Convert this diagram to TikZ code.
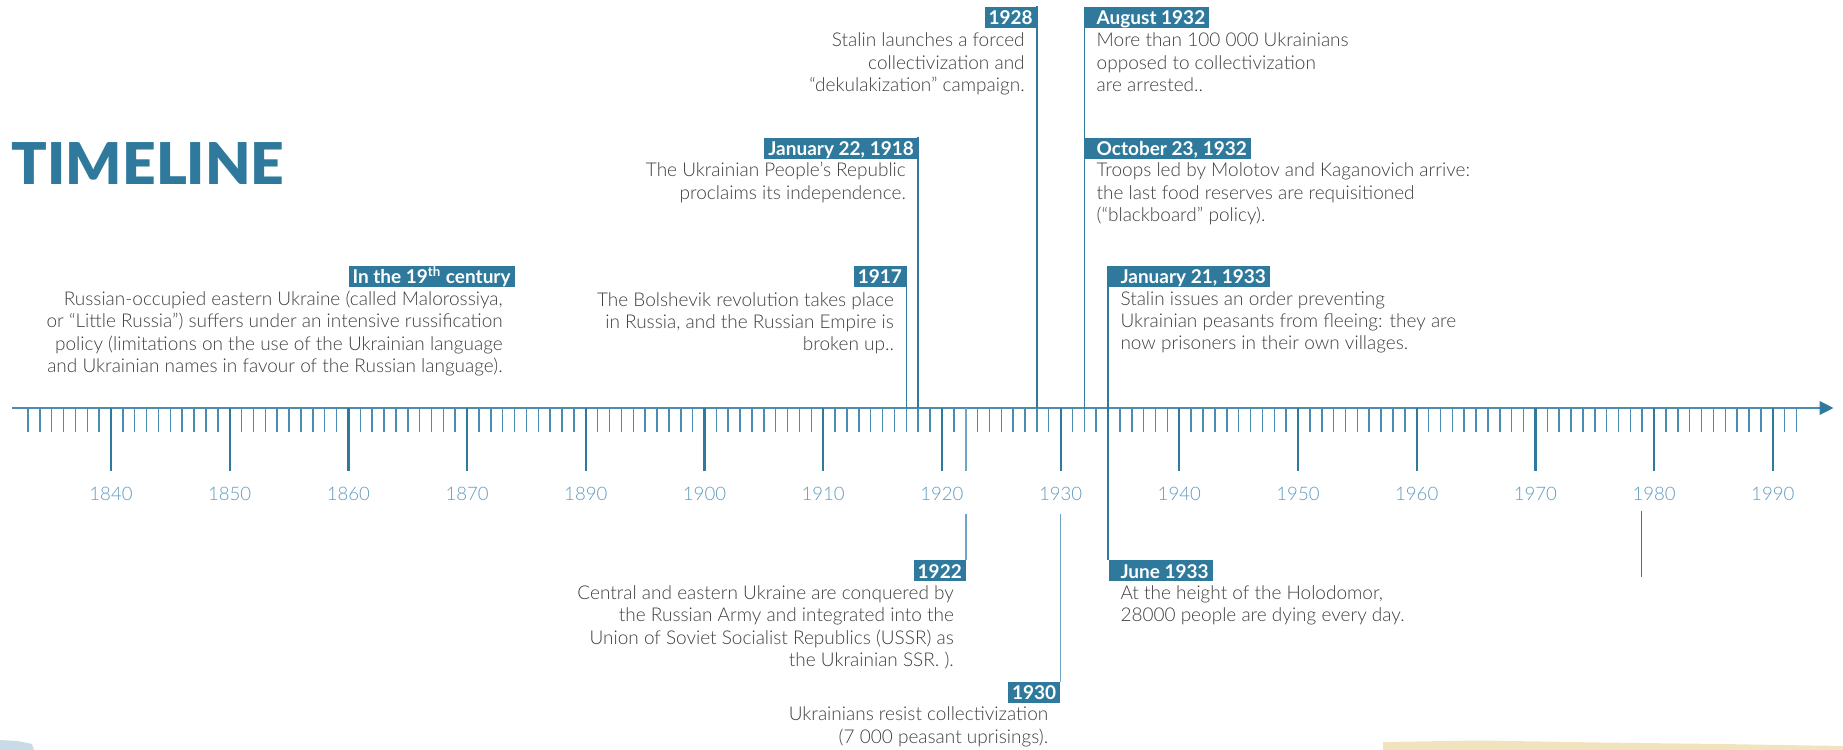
\documentclass[tikz,border=0pt]{standalone}
\usepackage{fontspec}
\usepackage{graphicx}
\usetikzlibrary{arrows.meta}
\setmainfont{Lato}
\IfFontExistsTF{Lato Light}{\newfontfamily\bodyfont{Lato Light}}{\newfontfamily\bodyfont{Lato}}
\IfFontExistsTF{Lato Black}{\newfontfamily\titlefont{Lato Black}}{\newfontfamily\titlefont{Lato}[UprightFont=*,BoldFont=*]\def\titlefont{\bfseries}}
\definecolor{tlblue}{HTML}{2F7A9C}
\definecolor{tlaxis}{HTML}{4B8DB0}
\definecolor{tlminor}{HTML}{4A8DB0}
\definecolor{tllabel}{HTML}{5E9BBE}
\definecolor{tllow}{HTML}{6CA6C4}
\definecolor{bodygray}{HTML}{3F3F3F}
\definecolor{paper}{HTML}{F1E3BD}
\definecolor{wash}{HTML}{C9DBE6}
\begin{document}
\begin{tikzpicture}[x=0.5pt,y=-0.5pt,
  datebox/.style={fill=tlblue, text=white, inner xsep=2pt, inner ysep=0pt,
    text height=8.8pt, text depth=1.65pt, font=\bfseries\fontsize{9.5}{11}\selectfont},
  body/.style={inner sep=0pt, text=bodygray, font=\bodyfont\fontsize{9.5}{11.2}\selectfont},
  evline/.style={draw=tlblue, line width=0.75pt},
  lowline/.style={draw=tllow, line width=0.75pt},
  minortick/.style={draw=tlminor, line width=0.75pt},
  majortick/.style={draw=tlblue, line width=1.1pt},
  yearlabel/.style={text=tllabel, inner sep=0pt, font=\bodyfont\fontsize{9.3}{11}\selectfont},
]
\useasboundingbox (0,0) rectangle (1843,750);
% decorative paper edges
\fill[paper] (1383,742) -- (1480,740.5) -- (1600,742.5) -- (1720,744) -- (1843,746) -- (1843,750) -- (1383,750) -- cycle;
\fill[wash] (0,740) -- (18,741) -- (32,744) -- (34,750) -- (0,750) -- cycle;

% title
\node[anchor=base west, inner sep=0pt, text=tlblue, font=\titlefont\fontsize{28.8}{30}\selectfont] (title) at (11.5,184) {\scalebox{1.02}[1]{TIMELINE}};

% axis
\coordinate (axS) at (12,408);
\coordinate (axE) at (1833.5,408);
\draw[draw=tlaxis, line width=1pt, -{Triangle[length=7pt,width=6.8pt,color=tlblue]}] (axS) -- (axE);
\foreach \u in {1843,...,1992}
  \draw[minortick] ({704.5+(\u-1900)*11.87},408) -- ({704.5+(\u-1900)*11.87},431.7);
\foreach \u/\lab in {1850/1840,1860/1850,1870/1860,1880/1870,1890/1890,1900/1900,1910/1910,1920/1920,1930/1930,1940/1940,1950/1950,1960/1960,1970/1970,1980/1980,1990/1990}{
  \draw[majortick] ({704.5+(\u-1900)*11.87},408) -- ({704.5+(\u-1900)*11.87},471);
  \node[yearlabel, anchor=base] (lab\lab) at ({704.5+(\u-1900)*11.87},500.5) {\lab};
}

% axis anchor points of events
\coordinate (a1917) at (906.3,408);
\coordinate (a1918) at (918.2,408);
\coordinate (a1928) at (1037,408);
\coordinate (a1932) at (1084.3,408);
\coordinate (a1922) at (966.2,408);
\coordinate (g1922a) at (966.2,471);
\coordinate (g1922b) at (966.2,514);
\coordinate (g1930b) at (1060.6,514);
\coordinate (s1979a) at (1641.5,510.7);
\coordinate (s1979b) at (1641.5,576.7);

% ---- In the 19th century
\node[datebox, anchor=north east] (b19) at (515,265.7) {In the 19\textsuperscript{th} century\hspace{4pt}};
\node[body, anchor=base east] (t19) at (503,305.5) {\begin{tabular}[t]{@{}r@{}}Russian-occupied eastern Ukraine (called Malorossiya,\\ or “Little Russia”) suffers under an intensive russification\\ policy (limitations on the use of the Ukrainian language\\ and Ukrainian names in favour of the Russian language).\end{tabular}};

% ---- 1917
\node[datebox, anchor=north east] (b1917) at (906.3,265.7) {1917\hspace{4pt}};
\node[body, anchor=base east] (t1917) at (894.3,306) {\begin{tabular}[t]{@{}r@{}}The Bolshevik revolution takes place\\ in Russia, and the Russian Empire is\\ broken up..\end{tabular}};
\draw[evline] (b1917.north east) -- (a1917);

% ---- January 22, 1918
\node[datebox, anchor=north east] (b1918) at (918.2,137.3) {January 22, 1918\hspace{4pt}};
\node[body, anchor=base east] (t1918) at (906.2,176.7) {\begin{tabular}[t]{@{}r@{}}The Ukrainian People’s Republic\\ proclaims its independence.\end{tabular}};
\draw[evline] (b1918.north east) -- (a1918);

% ---- 1928
\node[datebox, anchor=north east] (b1928) at (1037,6.3) {1928\hspace{4pt}};
\node[body, anchor=base east] (t1928) at (1025,46.7) {\begin{tabular}[t]{@{}r@{}}Stalin launches a forced\\ collectivization and\\ “dekulakization” campaign.\end{tabular}};
\draw[evline] (b1928.north east) -- (a1928);

% ---- August 1932
\node[datebox, anchor=north west] (bAug) at (1084.3,6.7) {\hspace{4pt}August 1932};
\node[body, anchor=base west] (tAug) at (1096.3,46.7) {\begin{tabular}[t]{@{}l@{}}More than 100 000 Ukrainians\\ opposed to collectivization\\ are arrested..\end{tabular}};
\draw[evline] (bAug.north west) -- (a1932);

% ---- October 23, 1932
\node[datebox, anchor=north west] (bOct) at (1084.3,137.3) {\hspace{4pt}October 23, 1932};
\node[body, anchor=base west] (tOct) at (1096.3,176.7) {\begin{tabular}[t]{@{}l@{}}Troops led by Molotov and Kaganovich arrive:\\ the last food reserves are requisitioned\\ (“blackboard” policy).\end{tabular}};

% ---- January 21, 1933
\node[datebox, anchor=north west] (bJan) at (1108.1,265.7) {\hspace{4pt}January 21, 1933};
\node[body, anchor=base west] (tJan) at (1120.1,305) {\begin{tabular}[t]{@{}l@{}}Stalin issues an order preventing\\ Ukrainian peasants from fleeing: they are\\ now prisoners in their own villages.\end{tabular}};

% ---- June 1933
\node[datebox, anchor=north west] (bJun) at (1108.1,560) {\hspace{4pt}June 1933};
\node[body, anchor=base west] (tJun) at (1120.1,599.3) {\begin{tabular}[t]{@{}l@{}}At the height of the Holodomor,\\ 28000 people are dying every day.\end{tabular}};
\draw[evline] (bJan.north west) -- (bJun.north west);

% ---- 1922
\node[datebox, anchor=north east] (b1922) at (966.2,560) {1922\hspace{4pt}};
\node[body, anchor=base east] (t1922) at (954.2,599.3) {\begin{tabular}[t]{@{}r@{}}Central and eastern Ukraine are conquered by\\ the Russian Army and integrated into the\\ Union of Soviet Socialist Republics (USSR) as\\ the Ukrainian SSR. ).\end{tabular}};
\draw[lowline] (a1922) -- (g1922a);
\draw[lowline] (g1922b) -- (b1922.north east);

% ---- 1930
\node[datebox, anchor=north east] (b1930) at (1060.6,681.7) {1930\hspace{4pt}};
\node[body, anchor=base east] (t1930) at (1048.6,720.7) {\begin{tabular}[t]{@{}r@{}}Ukrainians resist collectivization\\ (7 000 peasant uprisings).\end{tabular}};
\draw[lowline] (g1930b) -- (b1930.north east);

% ---- stray mark below 1980
\draw[evline, line width=0.6pt] (s1979a) -- (s1979b);
\end{tikzpicture}
\end{document}
